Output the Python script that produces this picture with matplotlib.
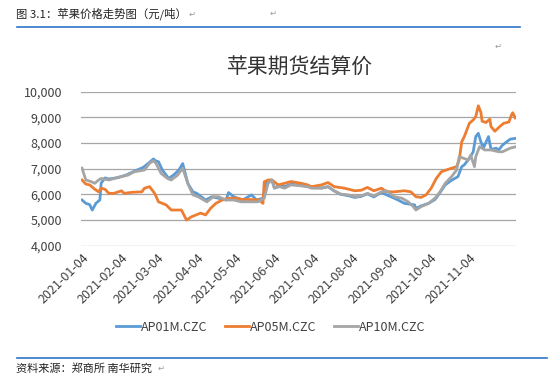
import matplotlib
matplotlib.use('Agg')
import matplotlib.pyplot as plt
import matplotlib.dates as mdates
import numpy as np

plt.rcParams['font.family'] = ['Noto Sans CJK SC', 'DejaVu Sans']

# AP01M.CZC (blue)
ap01_dates = ['2021-01-04', '2021-01-07', '2021-01-10', '2021-01-12', '2021-01-15', '2021-01-18',
              '2021-01-19', '2021-01-22', '2021-01-25', '2021-02-01', '2021-02-08', '2021-02-14',
              '2021-02-21', '2021-02-26', '2021-03-01', '2021-03-03', '2021-03-05', '2021-03-08',
              '2021-03-13', '2021-03-17', '2021-03-21', '2021-03-24', '2021-03-28', '2021-04-01',
              '2021-04-04', '2021-04-11', '2021-04-16', '2021-04-21', '2021-04-27', '2021-04-29',
              '2021-05-03', '2021-05-10', '2021-05-17', '2021-05-21', '2021-05-26', '2021-05-29',
              '2021-06-02', '2021-06-04', '2021-06-08', '2021-06-12', '2021-06-17', '2021-06-25',
              '2021-07-03', '2021-07-11', '2021-07-16', '2021-07-21', '2021-07-26', '2021-08-01',
              '2021-08-06', '2021-08-11', '2021-08-16', '2021-08-21', '2021-08-27', '2021-08-31',
              '2021-09-06', '2021-09-09', '2021-09-14', '2021-09-22', '2021-09-23', '2021-09-27',
              '2021-10-03', '2021-10-08', '2021-10-11', '2021-10-16', '2021-10-21', '2021-10-26',
              '2021-10-29', '2021-10-31', '2021-11-04', '2021-11-07', '2021-11-09', '2021-11-11',
              '2021-11-13', '2021-11-15', '2021-11-16', '2021-11-19', '2021-11-21', '2021-11-25',
              '2021-11-27', '2021-11-30', '2021-12-02', '2021-12-06', '2021-12-10']
ap01 = [5780, 5650, 5600, 5390, 5660, 5780,
        6440, 6640, 6600, 6650, 6760, 6900,
        7050, 7250, 7380, 7300, 7270, 6950,
        6620, 6760, 6950, 7200, 6430, 6100,
        6040, 5780, 5910, 5850, 5780, 6070,
        5910, 5780, 5980, 5780, 5850, 6500,
        6560, 6250, 6350, 6300, 6400, 6350,
        6280, 6250, 6300, 6130, 6000, 5950,
        5880, 5920, 6020, 5900, 6080, 5980,
        5850, 5780, 5650, 5590, 5450, 5550,
        5650, 5800, 6000, 6370, 6550, 6690,
        7080, 7150, 7400, 7660, 8250, 8380,
        8050, 7800, 7920, 8250, 7750, 7800,
        7730, 7920, 8000, 8150, 8180]

# AP05M.CZC (orange)
ap05_dates = ['2021-01-04', '2021-01-07', '2021-01-10', '2021-01-14', '2021-01-17', '2021-01-19',
              '2021-01-22', '2021-01-25', '2021-01-29', '2021-02-04', '2021-02-06', '2021-02-12',
              '2021-02-20', '2021-02-22', '2021-02-26', '2021-03-02', '2021-03-05', '2021-03-11',
              '2021-03-15', '2021-03-23', '2021-03-27', '2021-03-31', '2021-04-07', '2021-04-11',
              '2021-04-15', '2021-04-19', '2021-04-24', '2021-04-29', '2021-05-05', '2021-05-10',
              '2021-05-15', '2021-05-23', '2021-05-26', '2021-05-27', '2021-05-30', '2021-06-02',
              '2021-06-07', '2021-06-12', '2021-06-17', '2021-06-25', '2021-06-30', '2021-07-03',
              '2021-07-11', '2021-07-16', '2021-07-21', '2021-07-29', '2021-08-06', '2021-08-11',
              '2021-08-16', '2021-08-21', '2021-08-27', '2021-08-31', '2021-09-06', '2021-09-14',
              '2021-09-19', '2021-09-23', '2021-09-27', '2021-10-01', '2021-10-05', '2021-10-09',
              '2021-10-13', '2021-10-18', '2021-10-25', '2021-10-27', '2021-10-29', '2021-10-31',
              '2021-11-04', '2021-11-07', '2021-11-09', '2021-11-11', '2021-11-13', '2021-11-14',
              '2021-11-17', '2021-11-20', '2021-11-21', '2021-11-24', '2021-11-28', '2021-12-01',
              '2021-12-05', '2021-12-07', '2021-12-08', '2021-12-10']
ap05 = [6560, 6400, 6370, 6200, 6100, 6240,
        6200, 6040, 6040, 6140, 6040, 6080,
        6100, 6240, 6300, 6040, 5710, 5590,
        5390, 5390, 5000, 5130, 5270, 5200,
        5460, 5650, 5780, 5850, 5850, 5800,
        5800, 5780, 5650, 6490, 6560, 6560,
        6370, 6430, 6500, 6430, 6370, 6300,
        6370, 6460, 6300, 6240, 6140, 6160,
        6270, 6140, 6240, 6100, 6100, 6140,
        6100, 5910, 5880, 5980, 6240, 6620,
        6880, 6970, 7080, 7340, 8050, 8250,
        8770, 8900, 9030, 9450, 9200, 8850,
        8800, 8930, 8640, 8460, 8650, 8770,
        8820, 9090, 9180, 8980]

# AP10M.CZC (gray)
ap10_dates = ['2021-01-04', '2021-01-07', '2021-01-11', '2021-01-14', '2021-01-17', '2021-01-19',
              '2021-01-25', '2021-02-01', '2021-02-09', '2021-02-14', '2021-02-22', '2021-02-26',
              '2021-03-01', '2021-03-03', '2021-03-07', '2021-03-12', '2021-03-15', '2021-03-20',
              '2021-03-24', '2021-03-28', '2021-04-01', '2021-04-05', '2021-04-12', '2021-04-17',
              '2021-04-21', '2021-04-27', '2021-05-03', '2021-05-09', '2021-05-15', '2021-05-22',
              '2021-05-27', '2021-05-30', '2021-06-02', '2021-06-04', '2021-06-08', '2021-06-12',
              '2021-06-17', '2021-06-25', '2021-06-30', '2021-07-03', '2021-07-11', '2021-07-16',
              '2021-07-21', '2021-07-26', '2021-08-01', '2021-08-06', '2021-08-11', '2021-08-16',
              '2021-08-21', '2021-08-27', '2021-08-31', '2021-09-06', '2021-09-12', '2021-09-17',
              '2021-09-21', '2021-09-23', '2021-09-27', '2021-10-03', '2021-10-08', '2021-10-12',
              '2021-10-16', '2021-10-21', '2021-10-25', '2021-10-27', '2021-11-03', '2021-11-05',
              '2021-11-08', '2021-11-09', '2021-11-12', '2021-11-16', '2021-11-21', '2021-11-27',
              '2021-11-30', '2021-12-06', '2021-12-10']
ap10 = [7020, 6560, 6500, 6430, 6560, 6620,
        6560, 6660, 6750, 6880, 6950, 7210,
        7310, 7210, 6820, 6620, 6560, 6750,
        7020, 6430, 5980, 5910, 5710, 5910,
        5910, 5780, 5780, 5710, 5710, 5710,
        5850, 6430, 6560, 6240, 6300, 6240,
        6370, 6330, 6300, 6240, 6240, 6300,
        6140, 6010, 5980, 5910, 5940, 6040,
        5940, 6100, 6140, 5910, 5850, 5710,
        5520, 5390, 5520, 5650, 5850, 6100,
        6430, 6690, 6950, 7470, 7340, 7530,
        7080, 7470, 7860, 7730, 7730, 7660,
        7660, 7800, 7850]

series_names = ['AP01M.CZC', 'AP05M.CZC', 'AP10M.CZC']
series_colors = ['#5b9bd5', '#ed7d31', '#a5a5a5']
tick_dates = ['2021-%02d-04' % m for m in range(1, 12)]

fig = plt.figure(figsize=(5.5, 3.8), dpi=100)
fig.patch.set_facecolor('white')

ax = fig.add_axes([0.148, 0.3534, 0.790, 0.4053])
for d, v, name, c in zip([ap01_dates, ap05_dates, ap10_dates], [ap01, ap05, ap10],
                         series_names, series_colors):
    ax.plot(np.array(d, dtype='datetime64[D]'), v, color=c, lw=2, label=name,
            solid_joinstyle='round')

ax.set_ylim(4000, 10000)
ax.set_yticks(range(4000, 10001, 1000))
ax.yaxis.set_major_formatter(matplotlib.ticker.FuncFormatter(lambda v, p: f'{int(v):,}'))
ax.set_xlim(np.datetime64('2021-01-03T12:00'), np.datetime64('2021-12-10T12:00'))
ax.set_xticks(np.array(tick_dates, dtype='datetime64[D]'))
ax.xaxis.set_major_formatter(mdates.DateFormatter('%Y-%m-%d'))
plt.setp(ax.get_xticklabels(), rotation=45, ha='right', rotation_mode='anchor')
ax.tick_params(length=0, labelsize=9, colors='#404040', pad=4)
ax.tick_params(axis='y', pad=14)
ax.grid(axis='y', color='#a6a6a6', lw=0.9)
ax.set_axisbelow(True)
for s in ax.spines.values():
    s.set_visible(False)

ax.legend(loc='center', bbox_to_anchor=(0.436, -0.53), ncol=3, frameon=False,
          fontsize=9, handlelength=1.9, columnspacing=1.35, handletextpad=0.15,
          labelcolor='#404040')

fig.text(0.545, 0.823, '苹果期货结算价', ha='center', va='center', fontsize=15, color='#333333')

# header / footer of the report page
fig.text(0.03, 0.963, '图 3.1：苹果价格走势图（元/吨）', ha='left', va='center', fontsize=8.2, color='#222222')
fig.text(0.343, 0.963, '↵', ha='left', va='center', fontsize=6, color='#999999')
fig.text(0.49, 0.965, '↵', ha='left', va='center', fontsize=6, color='#999999')
fig.text(0.9, 0.878, '↵', ha='left', va='center', fontsize=6, color='#999999')
fig.add_artist(plt.Line2D([0.03, 0.945], [0.928, 0.928], color='#2e75c6', lw=1.2))
fig.add_artist(plt.Line2D([0.03, 0.995], [0.058, 0.058], color='#2e75c6', lw=1.2))
fig.text(0.03, 0.03, '资料来源：郑商所 南华研究', ha='left', va='center', fontsize=8.0, color='#222222')
fig.text(0.286, 0.03, '↵', ha='left', va='center', fontsize=6, color='#999999')

fig.savefig('out.png', dpi=100, facecolor='white')
